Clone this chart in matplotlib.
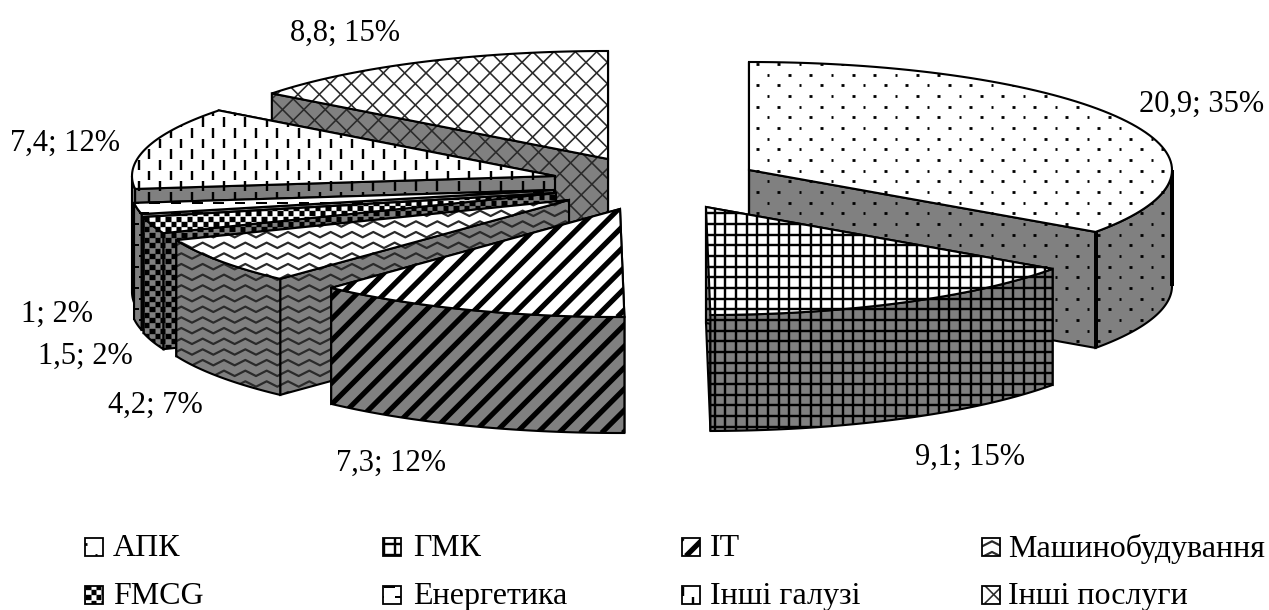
import numpy as np
import matplotlib
matplotlib.use('Agg')
import matplotlib.pyplot as plt
from matplotlib.collections import LineCollection
from matplotlib.patches import Polygon

plt.rcParams['font.family'] = ['Liberation Serif', 'DejaVu Serif']

# clockwise from 12 o'clock
slice_names = ['АПК', 'ГМК', 'IT', 'Машинобудування', 'FMCG',
               'Енергетика', 'Інші галузі', 'Інші послуги']
slice_values = [20.9, 9.1, 7.3, 4.2, 1.5, 1.0, 7.4, 8.8]

# ============================================================
# LAYOUT (figure pixels)
# ============================================================
W, H = 1269, 610
RX, RY, DEPTH = 423, 108, 116
GRAY = '#808080'
P = 32 / 3  # Excel pattern cell

patterns = ['dots', 'grid', 'stripes', 'zigzag', 'check', 'hdash', 'vdash', 'cross']
apex = [(749, 170), (706, 207), (620, 209), (569, 200),
        (556, 193), (554, 190), (555, 176), (608, 159)]
draw_order = [7, 0, 6, 5, 4, 3, 2, 1]  # back to front
label_pos = [(1202, 104), (970, 457), (391, 463), (155, 405),
             (85, 356), (57, 314), (65, 143), (345, 33)]
legend_swatch_x = [85, 383, 682, 982, 85, 383, 682, 982]
legend_text_x = [113, 413, 710, 1008, 113, 413, 710, 1008]
legend_y = [547, 547, 547, 547, 594.5, 594.5, 594.5, 594.5]

px = 0.72  # 1 pixel in points at dpi 100


def pattern_lines(kind, x0, x1, y0, y1):
    """Polylines, line width (px) and colour of one fill pattern inside a box."""
    xs = np.arange(np.floor(x0 / P) - 1, np.ceil(x1 / P) + 2) * P
    ys = np.arange(np.floor(y0 / P) - 1, np.ceil(y1 / P) + 2) * P
    segs = []
    if kind == 'grid':
        segs += [[(x, y0), (x, y1)] for x in xs]
        segs += [[(x0, y), (x1, y)] for y in ys]
        return segs, 2.4, 'black'
    if kind in ('stripes', 'cross'):
        span = y1 - y0
        cs = np.arange(np.floor(x0 / (2 * P)) - 1, np.ceil((x1 + span) / (2 * P)) + 2) * 2 * P
        for c in cs:
            segs.append([(c, y0), (c - span, y1)])
            if kind == 'cross':
                segs.append([(c - span, y0), (c, y1)])
        return segs, (5.2 if kind == 'stripes' else 1.6), ('black' if kind == 'stripes' else '#2a2a2a')
    if kind == 'zigzag':
        for y in ys:
            segs.append([(x, y + (2.7 if i % 2 else -2.7)) for i, x in enumerate(xs)])
        return segs, 2.2, '#2a2a2a'
    if kind == 'check':
        rows = np.arange(np.floor(y0 / (P / 2)) - 1, np.ceil(y1 / (P / 2)) + 2)
        for r in rows:
            for x in xs:
                xa = x + (r % 2) * P / 2
                segs.append([(xa, r * P / 2), (xa + P / 2, r * P / 2)])
        return segs, P / 2, 'black'
    for j, y in enumerate(ys):
        for i, x in enumerate(xs):
            if kind == 'dots' and (i + j) % 2 == 0:
                segs.append([(x - 1.4, y), (x + 1.4, y)])
            elif kind == 'vdash' and (i + j) % 2 == 0:
                segs.append([(x, y), (x, y + P - 1)])
            elif kind == 'hdash' and (i + j) % 2 == 0:
                segs.append([(x, y), (x + P, y)])
    width = {'dots': 2.8, 'vdash': 2.4, 'hdash': 2.0}[kind]
    return segs, width, 'black'


def add_face(ax, pts, kind, fill, lw=2.1):
    """Filled polygon, its pattern clipped to it, outline on top."""
    pts = np.asarray(pts)
    face = Polygon(pts, closed=True, facecolor=fill, edgecolor='none', zorder=1)
    ax.add_patch(face)
    x0, y0 = pts.min(axis=0)
    x1, y1 = pts.max(axis=0)
    segs, width, color = pattern_lines(kind, x0, x1, y0, y1)
    lines = LineCollection(segs, colors=color, linewidths=width * px, capstyle='butt', zorder=1)
    ax.add_collection(lines)
    lines.set_clip_path(face)
    ax.add_patch(Polygon(pts, closed=True, facecolor='none', edgecolor='black',
                         linewidth=lw * px, joinstyle='miter', zorder=1))


def ellipse_point(cx, cy, deg):
    t = np.radians(deg)
    return cx + RX * np.sin(t), cy - RY * np.cos(t)


fig = plt.figure(figsize=(W / 100, H / 100), dpi=100)
ax = fig.add_axes([0, 0, 1, 1])
ax.set_xlim(0, W)
ax.set_ylim(H, 0)
ax.axis('off')

values = np.array(slice_values)
edges = np.concatenate([[0], np.cumsum(values)]) / values.sum() * 360

for i in draw_order:
    cx, cy = apex[i]
    a0, a1 = edges[i], edges[i + 1]
    arc = np.array([ellipse_point(cx, cy, d) for d in np.linspace(a0, a1, 80)])
    drop = np.array([0, DEPTH])

    # radial walls, then the front part of the rim, then the top
    for end in (arc[-1], arc[0]):
        add_face(ax, [(cx, cy), end, end + drop, (cx, cy + DEPTH)], patterns[i], GRAY)
    front = np.linspace(max(a0, 90), min(a1, 270), 80)
    if front[-1] > front[0]:
        rim = np.array([ellipse_point(cx, cy, d) for d in front])
        add_face(ax, np.vstack([rim, (rim + drop)[::-1]]), patterns[i], GRAY)
        if i == 0:  # heavy vertical edges on the big slice
            for x, y in (rim[0], rim[-1]):
                ax.plot([x, x], [y, y + DEPTH], color='black', lw=4 * px,
                        solid_capstyle='butt', zorder=1)
    add_face(ax, np.vstack([[(cx, cy)], arc]), patterns[i], 'white')

# data labels
shares = values / values.sum() * 100
for v, s, (x, y) in zip(slice_values, shares, label_pos):
    txt = f'{v:g}'.replace('.', ',') + f'; {s:.0f}%'
    ax.text(x, y, txt, fontsize=22, ha='center', va='center', color='black')

# legend
for name, kind, sx, tx, y in zip(slice_names, patterns, legend_swatch_x, legend_text_x, legend_y):
    add_face(ax, [(sx, y - 9), (sx + 18, y - 9), (sx + 18, y + 9), (sx, y + 9)], kind, 'white', lw=1.8)
    ax.text(tx, y + 2, name, fontsize=23, ha='left', va='center', color='black')

fig.savefig('out.png', dpi=100)
